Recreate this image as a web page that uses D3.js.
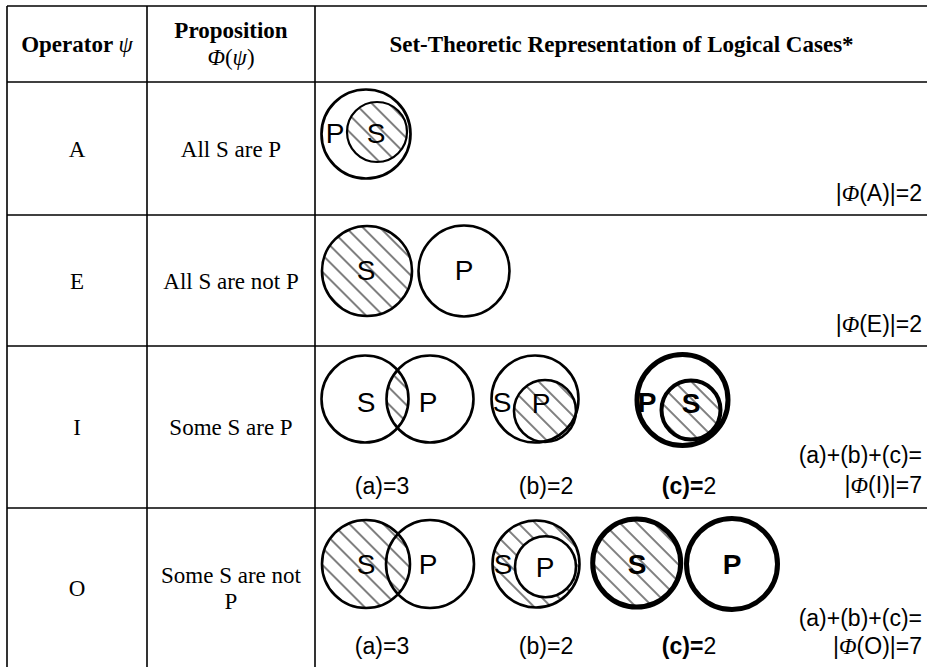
<!DOCTYPE html>
<html>
<head>
<meta charset="utf-8">
<script src="https://cdn.jsdelivr.net/npm/d3@7"></script>
<style>
  body { margin: 0; background: #fff; }
</style>
</head>
<body>
<div id="chart"></div>
<script>
// Table content
var operators = ['A', 'E', 'I', 'O'];
var propositions = [['All S are P'], ['All S are not P'], ['Some S are P'], ['Some S are not', 'P']];
var caseNames = ['(a)', '(b)', '(c)'];
var casesI = [3, 2, 2];
var casesO = [3, 2, 2];
var totals = [2, 2, 7, 7];

// Layout of the table
var width = 927, height = 667;
var colEdges = [7, 147, 315, 928];
var rowEdges = [6, 82, 215, 346, 508, 668];
var serif = "'Liberation Serif', 'Times New Roman', serif";
var sans = "'Liberation Sans', Arial, sans-serif";

// Row tops / centres keyed by operator
var rowTop = d3.scaleOrdinal().domain(operators).range(rowEdges.slice(1, 5));
var rowMid = d3.scaleOrdinal().domain(operators)
    .range(operators.map(function (d, i) { return (rowEdges[i + 1] + rowEdges[i + 2]) / 2; }));
var colMid = d3.scaleOrdinal().domain([0, 1, 2])
    .range([0, 1, 2].map(function (i) { return (colEdges[i] + colEdges[i + 1]) / 2; }));

// Diagram geometry (relative to column 3 left edge and row top)
// circles: [dx, dy, r, strokeWidth]; hatch: which region is shaded
var diagrams = {
    A: [{ circles: [[51, 52, 44.5, 2.7], [62, 50, 30, 2.2]], hatch: ['full', 1],
          labels: [['P', 20, 51, false], ['S', 61, 51, false]] }],
    E: [{ circles: [[52, 56, 45, 2.6], [149, 56, 45.5, 2.6]], hatch: ['full', 0],
          labels: [['S', 51, 55, false], ['P', 149, 55, false]] }],
    I: [{ circles: [[50, 53, 43.5, 2.6], [115, 53, 43.5, 2.6]], hatch: ['both', 0, 1],
          labels: [['S', 51, 56, false], ['P', 113, 56, false]] },
        { circles: [[220, 53, 43.5, 2.6], [230, 65, 31, 2.6]], hatch: ['full', 1],
          labels: [['S', 187, 56, false], ['P', 226, 57, false]] },
        { circles: [[367.5, 54, 45.5, 5], [376, 64, 29.5, 4]], hatch: ['full', 1],
          labels: [['P', 332, 56, true], ['S', 376, 57, true]] }],
    O: [{ circles: [[51, 56, 44, 2.6], [115, 56, 44, 2.6]], hatch: ['full', 0],
          labels: [['S', 51, 56, false], ['P', 113, 56, false]] },
        { circles: [[221, 56, 43.5, 2.6], [230.5, 58.7, 30.5, 2.6]], hatch: ['ring', 0, 1],
          labels: [['S', 188, 56, false], ['P', 230, 59, false]] },
        { circles: [[321.7, 55, 44, 5], [417, 56, 45.5, 5]], hatch: ['full', 0],
          labels: [['S', 322, 56, true], ['P', 417, 56, true]] }]
};
var caseX = [67, 231, 374];

var svg = d3.select('#chart').append('svg')
    .attr('width', width)
    .attr('height', height)
    .style('display', 'block');

var defs = svg.append('defs');
defs.append('pattern')
    .attr('id', 'hatch')
    .attr('patternUnits', 'userSpaceOnUse')
    .attr('width', 12)
    .attr('height', 12)
    .attr('patternTransform', 'rotate(-45)')
    .append('line')
    .attr('x1', 1).attr('y1', -1)
    .attr('x2', 1).attr('y2', 13)
    .attr('stroke', '#000')
    .attr('stroke-width', 1);

function circlePath(cx, cy, r) {
    return 'M' + (cx - r) + ',' + cy +
        'a' + r + ',' + r + ' 0 1,0 ' + (2 * r) + ',0' +
        'a' + r + ',' + r + ' 0 1,0 ' + (-2 * r) + ',0Z';
}

// Table grid
var grid = svg.append('g').attr('stroke', '#000').attr('stroke-width', 1.6);
grid.selectAll('.hline')
    .data(rowEdges)
    .enter().append('line')
    .attr('x1', colEdges[0]).attr('x2', colEdges[3])
    .attr('y1', function (d) { return d; })
    .attr('y2', function (d) { return d; });
grid.selectAll('.vline')
    .data(colEdges)
    .enter().append('line')
    .attr('y1', rowEdges[0]).attr('y2', rowEdges[5])
    .attr('x1', function (d) { return d; })
    .attr('x2', function (d) { return d; });

// Header
var head = svg.append('g').attr('font-family', serif).attr('font-size', 23)
    .attr('text-anchor', 'middle').attr('fill', '#000');
var h1 = head.append('text').attr('x', colMid(0)).attr('y', 52).attr('font-weight', 'bold');
h1.append('tspan').text('Operator ');
h1.append('tspan').attr('font-style', 'italic').attr('font-weight', 'normal').text('ψ');
head.append('text').attr('x', colMid(1)).attr('y', 38).attr('font-weight', 'bold').text('Proposition');
var h2 = head.append('text').attr('x', colMid(1)).attr('y', 65);
h2.append('tspan').attr('font-style', 'italic').text('Φ');
h2.append('tspan').text('(');
h2.append('tspan').attr('font-style', 'italic').text('ψ');
h2.append('tspan').text(')');
head.append('text').attr('x', colMid(2)).attr('y', 52).attr('font-weight', 'bold')
    .text('Set-Theoretic Representation of Logical Cases*');

// Column 1 and 2 body text
var body = svg.append('g').attr('font-family', serif).attr('font-size', 23)
    .attr('text-anchor', 'middle').attr('fill', '#000');
body.selectAll('.op')
    .data(operators)
    .enter().append('text')
    .attr('x', colMid(0))
    .attr('y', function (d) { return rowMid(d) + 8; })
    .text(function (d) { return d; });
body.selectAll('.prop')
    .data(propositions)
    .enter().append('text')
    .attr('x', colMid(1))
    .attr('y', function (d, i) { return rowMid(operators[i]) + 8 - (d.length - 1) * 13; })
    .each(function (d) {
        var t = d3.select(this);
        d.forEach(function (line, j) {
            t.append('tspan').attr('x', colMid(1)).attr('dy', j === 0 ? 0 : 26).text(line);
        });
    });

// Diagrams
var x0 = colEdges[2];
operators.forEach(function (op) {
    var top = rowTop(op);
    diagrams[op].forEach(function (dg, k) {
        var g = svg.append('g').attr('transform', 'translate(' + x0 + ',' + top + ')');
        var c = dg.circles;
        var h = dg.hatch;
        if (h[0] === 'full') {
            g.append('circle')
                .attr('cx', c[h[1]][0]).attr('cy', c[h[1]][1]).attr('r', c[h[1]][2])
                .attr('fill', 'url(#hatch)');
        } else if (h[0] === 'both') {
            var cid = 'clip-' + op + '-' + k;
            defs.append('clipPath').attr('id', cid)
                .append('circle')
                .attr('cx', x0 + c[h[1]][0]).attr('cy', top + c[h[1]][1]).attr('r', c[h[1]][2]);
            svg.append('circle')
                .attr('cx', x0 + c[h[2]][0]).attr('cy', top + c[h[2]][1]).attr('r', c[h[2]][2])
                .attr('clip-path', 'url(#' + cid + ')')
                .attr('fill', 'url(#hatch)');
        } else if (h[0] === 'ring') {
            g.append('path')
                .attr('d', circlePath(c[h[1]][0], c[h[1]][1], c[h[1]][2]) +
                    circlePath(c[h[2]][0], c[h[2]][1], c[h[2]][2]))
                .attr('fill-rule', 'evenodd')
                .attr('fill', 'url(#hatch)');
        }
        g.selectAll('.ring')
            .data(c)
            .enter().append('circle')
            .attr('cx', function (d) { return d[0]; })
            .attr('cy', function (d) { return d[1]; })
            .attr('r', function (d) { return d[2]; })
            .attr('fill', 'none')
            .attr('stroke', '#000')
            .attr('stroke-width', function (d) { return d[3]; });
        var lg = svg.append('g').attr('transform', 'translate(' + x0 + ',' + top + ')');
        lg.selectAll('text')
            .data(dg.labels)
            .enter().append('text')
            .attr('x', function (d) { return d[1]; })
            .attr('y', function (d) { return d[2] + 10; })
            .attr('text-anchor', 'middle')
            .attr('font-family', sans)
            .attr('font-size', 28)
            .attr('font-weight', function (d) { return d[3] ? 'bold' : 'normal'; })
            .text(function (d) { return d[0]; });
    });
});

// Case labels for I and O rows
var lab = svg.append('g').attr('font-family', sans).attr('font-size', 23).attr('fill', '#000');
[['I', casesI, 148], ['O', casesO, 146]].forEach(function (row) {
    var top = rowTop(row[0]);
    row[1].forEach(function (n, i) {
        var t = lab.append('text')
            .attr('x', x0 + caseX[i])
            .attr('y', top + row[2])
            .attr('text-anchor', 'middle');
        t.append('tspan').attr('font-weight', i === 2 ? 'bold' : 'normal').text(caseNames[i] + '=');
        t.append('tspan').text(n);
    });
});

// Totals on the right
var rx = 922;
var totalBase = [[119], [117], [117, 147], [118, 146]];
operators.forEach(function (op, i) {
    var top = rowTop(op);
    var b = totalBase[i];
    if (b.length === 2) {
        lab.append('text')
            .attr('x', rx).attr('y', top + b[0])
            .attr('text-anchor', 'end')
            .text(caseNames.join('+') + '=');
    }
    var t = lab.append('text')
        .attr('x', rx).attr('y', top + b[b.length - 1])
        .attr('text-anchor', 'end');
    t.append('tspan').text('|');
    t.append('tspan').attr('font-family', serif).attr('font-style', 'italic').text('Φ');
    t.append('tspan').text('(' + op + ')|=' + totals[i]);
});
</script>
</body>
</html>
